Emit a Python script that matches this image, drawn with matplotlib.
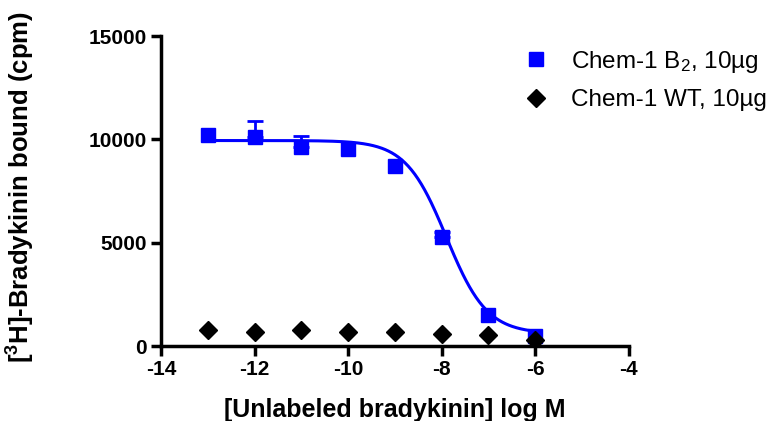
import numpy as np
import matplotlib
matplotlib.use('Agg')
import matplotlib.pyplot as plt

plt.rcParams['font.family'] = ['Liberation Sans', 'DejaVu Sans']
plt.rcParams['mathtext.fontset'] = 'custom'
plt.rcParams['mathtext.rm'] = 'Liberation Sans'
plt.rcParams['mathtext.bf'] = 'Liberation Sans:bold'
plt.rcParams['mathtext.default'] = 'regular'
plt.rcParams['axes.unicode_minus'] = False

# data
log_conc = [-13, -12, -11, -10, -9, -8, -7, -6]
b2_bound = [10200, 10100, 9650, 9550, 8700, 5270, 1500, 480]
b2_err = [0, 800, 520, 0, 0, 250, 0, 0]
wt_bound = [770, 690, 760, 690, 690, 590, 530, 300]

# one-site competition fit parameters for the B2 curve
fit_top = 9950
fit_bottom = 600
fit_logic50 = -7.9

fig = plt.figure(figsize=(7.82, 4.21), dpi=100)
ax = fig.add_axes([0.206, 0.178, 0.598, 0.736])

xf = np.linspace(-13, -6, 300)
yf = fit_bottom + (fit_top - fit_bottom) / (1 + 10 ** (xf - fit_logic50))
ax.plot(xf, yf, color='#0000ff', lw=2.2, zorder=2)

# upper error bars only, where there is an error
ex = [x for x, e in zip(log_conc, b2_err) if e > 0]
ey = [y for y, e in zip(b2_bound, b2_err) if e > 0]
ee = [e for e in b2_err if e > 0]
ax.errorbar(ex, ey, yerr=[[0] * len(ee), ee], fmt='none', ecolor='#0000ff',
            capsize=5.5, elinewidth=2, capthick=2, zorder=3)

ax.plot(log_conc, b2_bound, 's', color='#0000ff', ms=10, zorder=3,
        label='Chem-1 B$_2$, 10µg')
ax.plot(log_conc, wt_bound, 'D', color='black', ms=9, zorder=4,
        label='Chem-1 WT, 10µg')

ax.set_xlim(-14, -4)
ax.set_ylim(0, 15000)
ax.set_xticks([-14, -12, -10, -8, -6, -4])
ax.set_yticks([0, 5000, 10000, 15000])

for side in ('top', 'right'):
    ax.spines[side].set_visible(False)
for side in ('left', 'bottom'):
    ax.spines[side].set_linewidth(2.5)
ax.tick_params(width=2.5, length=7, labelsize=15, pad=3)
for lab in ax.get_xticklabels() + ax.get_yticklabels():
    lab.set_fontweight('bold')

ax.set_xlabel('[Unlabeled bradykinin] log M', fontsize=18, fontweight='bold')
ax.set_ylabel(r'[$\mathbf{^3}$H]-Bradykinin bound (cpm)', fontsize=18.5,
              fontweight='bold')
ax.xaxis.set_label_coords(0.5, -0.168)
ax.yaxis.set_label_coords(-0.265, 0.515)

ax.legend(loc='upper left', bbox_to_anchor=(0.73, 1.03), frameon=False,
          fontsize=17.5, handletextpad=0.9, labelspacing=0.6,
          numpoints=1, handlelength=1.0)

fig.savefig('out.png', dpi=100)
